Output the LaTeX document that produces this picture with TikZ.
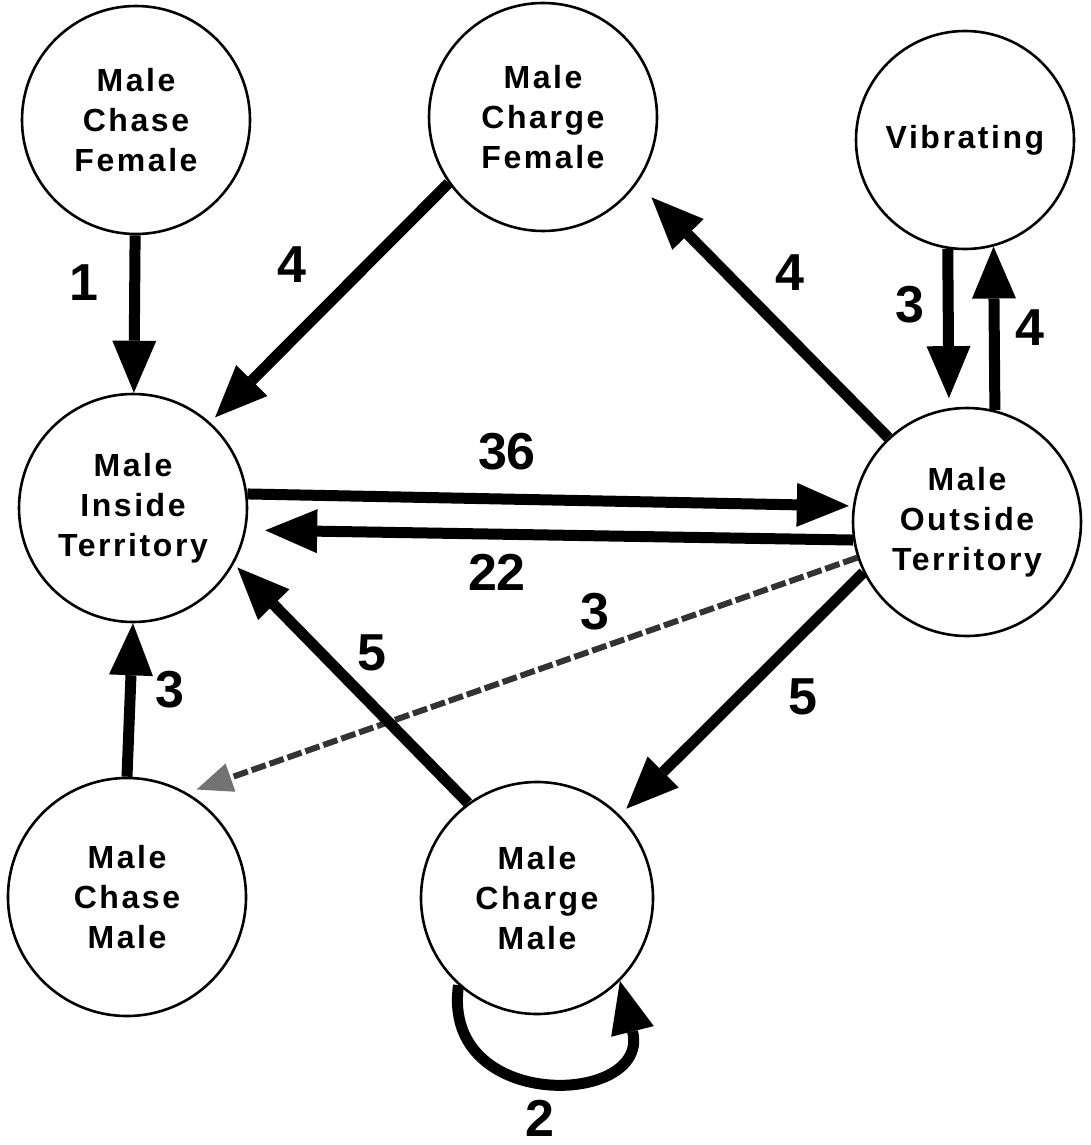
\documentclass[tikz,border=0pt]{standalone}
\usepackage{fontspec}
\usepackage{tikz}
\usetikzlibrary{arrows.meta}
\newfontfamily\wideface[LetterSpace=8]{Liberation Sans}
\newfontfamily\plainface{Liberation Sans}
\newcommand\statefont{\wideface\bfseries\fontsize{32}{40}\selectfont}
\newcommand\numfont{\plainface\bfseries\fontsize{52}{52}\selectfont}

\begin{document}
\begin{tikzpicture}[x=1pt,y=1pt,
	state/.style={draw,circle,line width=2.6pt,minimum size=228pt,inner sep=0pt,align=center,font=\statefont},
	flow/.style={line width=11pt,-{Triangle[length=52pt,width=44pt,line width=0pt]}},
	weak/.style={line width=6pt,black!80,dash pattern=on 15pt off 4pt,-{Triangle[length=36pt,width=30pt,line width=0pt,fill=black!55]}},
	num/.style={font=\numfont,inner sep=0pt}]
	\useasboundingbox (0,0) rectangle (1091,-1145);
	% behaviour states
	\node[state] (mcf) at (136,-120) {Male\\Chase\\Female};
	\node[state] (mchf) at (543,-117) {Male\\Charge\\Female};
	\node[state,minimum size=218pt] (vib) at (965,-140) {Vibrating};
	\node[state] (mit) at (133,-508) {Male\\Inside\\Territory};
	\node[state] (mot) at (967,-522) {Male\\Outside\\Territory};
	\node[state,minimum size=238pt] (mcm) at (127,-897) {Male\\Chase\\Male};
	\node[state,minimum size=232pt] (mchm) at (537,-898) {Male\\Charge\\Male};
	% transitions
	\draw[flow] (mcf) -- (mit);
	\draw[flow,shorten >=7pt] (mchf.215) -- (mit.48);
	\draw[flow,shorten >=4pt] (mit.7) -- (mot.172);
	\draw[flow,shorten >=19pt] (mot.189) -- (mit.-11);
	\draw[weak,shorten >=10pt] (mot.198) -- (mcm.60);
	\draw[flow,shorten >=5pt] (mchm.126) -- (mit.-29);
	\draw[flow,shorten >=9pt] (mot.206) -- (mchm.45);
	\draw[flow] (mcm.90) -- (mit.270);
	\draw[flow,shorten >=20pt] (mot.133) -- (mchf.-35);
	\draw[flow,shorten >=10pt] (vib.261) -- (mot.99);
	\draw[flow] (mot.76) -- (vib.-75);
	\draw[flow] (mchm.228) to[out=262,in=284,looseness=2.05] (mchm.-45);
	% counts
	\node[num] (c1) at (84,-283) {1};
	\node[num] (c2) at (292,-265) {4};
	\node[num] (c3) at (790,-273) {4};
	\node[num] (c4) at (910,-305) {3};
	\node[num] (c5) at (1030,-328) {4};
	\node[num] (c6) at (507,-452) {36};
	\node[num] (c7) at (497,-572) {22};
	\node[num] (c8) at (595,-612) {3};
	\node[num] (c9) at (372,-653) {5};
	\node[num] (c10) at (803,-697) {5};
	\node[num] (c11) at (170,-690) {3};
	\node[num] (c12) at (540,-1118) {2};
\end{tikzpicture}
\end{document}
